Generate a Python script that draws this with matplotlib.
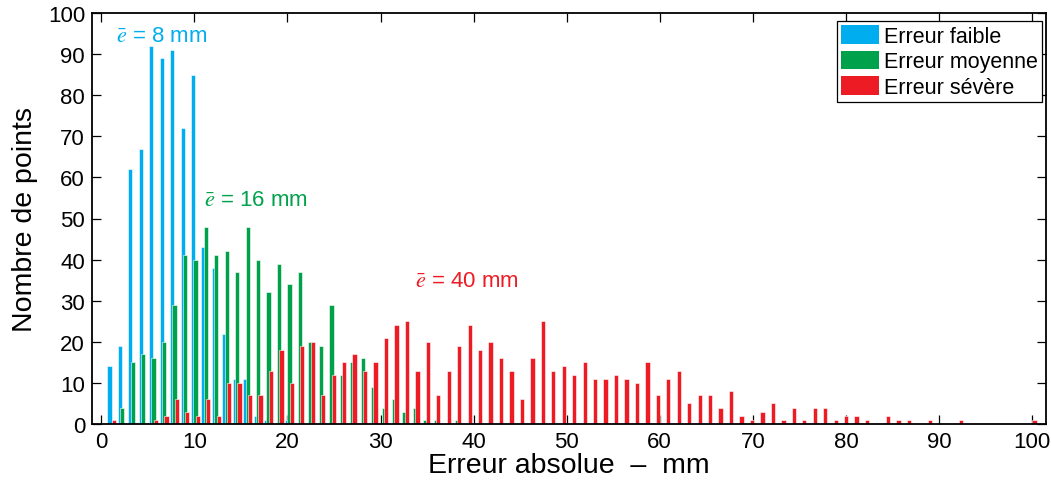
import numpy as np
import matplotlib
matplotlib.use("Agg")
import matplotlib.pyplot as plt
from matplotlib.patches import Patch

plt.rcParams['font.family'] = ['Liberation Sans', 'DejaVu Sans']
plt.rcParams['mathtext.fontset'] = 'stix'

# bin centres (mm): 90 bins from 0 to 100
bin_centers = np.linspace(0, 100, 90)

faible = [0, 14, 19, 62, 67, 92, 89, 91, 72, 85, 43, 38, 22, 11, 11, 2, 1, 0, 1]
moyenne = [0, 0, 4, 15, 17, 16, 20, 29, 41, 40, 48, 41, 42, 37, 48, 40, 32, 39, 34, 37,
           20, 19, 29, 12, 15, 16, 9, 4, 6, 3, 4, 1, 1, 0, 1]
severe = [0, 1, 0, 0, 0, 1, 2, 6, 3, 2, 6, 2, 10, 10, 7, 7, 13, 18, 10, 19,
          20, 7, 12, 15, 17, 13, 15, 21, 24, 25, 13, 20, 7, 13, 19, 24, 18, 20, 16, 13,
          6, 16, 25, 13, 14, 12, 15, 11, 11, 12, 11, 10, 15, 7, 11, 13, 5, 7, 7, 4,
          8, 2, 1, 3, 5, 1, 4, 1, 4, 4, 1, 2, 2, 1, 0, 2, 1, 1, 0, 1,
          0, 0, 1, 0, 0, 0, 0, 0, 0, 1]

def pad(v):
    a = np.zeros(len(bin_centers))
    a[:len(v)] = v
    return a

series = [("Erreur faible", pad(faible), "#00AEEF"),
          ("Erreur moyenne", pad(moyenne), "#00A14B"),
          ("Erreur sévère", pad(severe), "#ED1C24")]
annot = [(r"$\bar{e}$ = 8 mm", 1.6, 94.5),
         (r"$\bar{e}$ = 16 mm", 11.0, 54.7),
         (r"$\bar{e}$ = 40 mm", 33.7, 34.8)]

fig = plt.figure(figsize=(10.51, 4.81), dpi=100)
ax = fig.add_axes([92/1051, 1-425/481, (1046-92)/1051, (425-14)/481])

offsets = [-0.25, 0.0, 0.25]
width = 0.46
for i, (name, vals, col) in enumerate(series):
    ax.bar(bin_centers + offsets[i], vals, width=width, color=col,
           edgecolor='white', linewidth=0.4, zorder=2 + i)

for (txt, x, y), (_, _, col) in zip(annot, series):
    ax.text(x, y, txt, color=col, fontsize=16, ha='left', va='center')

ax.set_xlim(-1, 101.5)
ax.set_ylim(0, 100)
ax.set_xticks(np.arange(0, 101, 10))
ax.set_yticks(np.arange(0, 101, 10))
ax.tick_params(direction='in', length=6.5, width=0.9, top=True, right=True,
               labelsize=16, pad=5, zorder=10)
for s in ax.spines.values():
    s.set_linewidth(1.3)
    s.set_zorder(10)
ax.set_xlabel("Erreur absolue  \u2013  mm", fontsize=20.5, labelpad=0)
ax.set_ylabel("Nombre de points", fontsize=20.5, labelpad=7)

handles = [Patch(facecolor=c, edgecolor='none', label=n) for n, _, c in series]
leg = ax.legend(handles=handles, loc='upper right', bbox_to_anchor=(0.996, 0.981),
                borderaxespad=0, fontsize=15.5, handlelength=1.75, handleheight=0.95,
                handletextpad=0.25, labelspacing=0.18, borderpad=0.2,
                fancybox=False, framealpha=1, edgecolor='black')
leg.get_frame().set_linewidth(0.9)
leg.set_zorder(20)

fig.savefig("out.png", dpi=100)
